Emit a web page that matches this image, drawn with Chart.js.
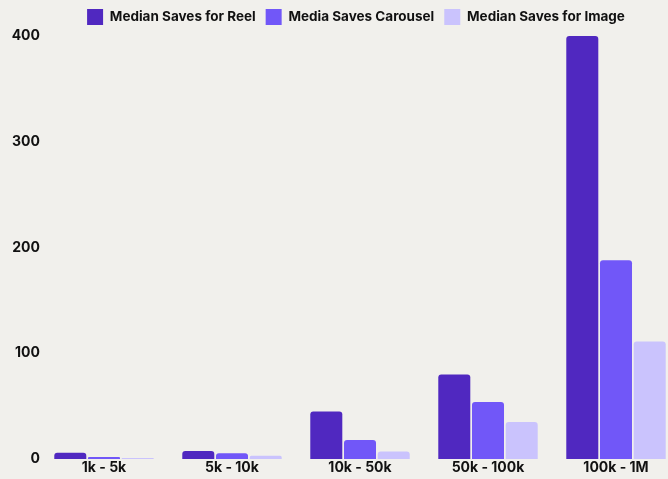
<!DOCTYPE html>
<html>
<head>
<meta charset="utf-8">
<script src="https://cdn.jsdelivr.net/npm/chart.js@4"></script>
<style>
  html, body { margin: 0; padding: 0; background: #f1f0ec; overflow: hidden; }
  #wrap { position: relative; width: 680px; height: 479px; }
</style>
</head>
<body>
<div id="wrap"><canvas id="chart"></canvas></div>
<script>
// categories and values
const categories = ["1k - 5k", "5k - 10k", "10k - 50k", "50k - 100k", "100k - 1M"]
const reelSaves = [6, 7.5, 45, 80, 400]
const carouselSaves = [2, 5.5, 18, 54, 188]
const imageSaves = [1, 3, 7, 35, 111]
const yTicks = [0, 100, 200, 300, 400]

const seriesNames = ["Median Saves for Reel", "Media Saves Carousel", "Median Saves for Image"]
const seriesColors = ["#5028c0", "#7157f8", "#cac3fd"]

Chart.defaults.font.family = "Inter, 'Noto Sans', sans-serif"
Chart.defaults.font.weight = "bold"
Chart.defaults.color = "#111"

const ctx = document.getElementById("chart")

const makeSet = (i, values) => ({
    label: seriesNames[i],
    data: values,
    backgroundColor: seriesColors[i],
    borderRadius: { topLeft: 3, topRight: 3 },
    borderSkipped: "bottom",
    barPercentage: 0.95,
    categoryPercentage: 0.79,
})

// nudge the legend so it sits where the original one does
const legendShift = {
    id: "legendShift",
    afterLayout(chart) {
        const lg = chart.legend
        lg.left += 16
        lg.right += 16
        lg.top -= 1
        lg.bottom -= 1
    },
}

new Chart(ctx, {
    type: "bar",
    plugins: [legendShift],
    data: {
        labels: categories,
        datasets: [
            makeSet(0, reelSaves),
            makeSet(1, carouselSaves),
            makeSet(2, imageSaves),
        ],
    },
    options: {
        responsive: true,
        maintainAspectRatio: false,
        animation: false,
        layout: { padding: 0 },
        plugins: {
            tooltip: { enabled: false },
            legend: {
                position: "top",
                labels: {
                    boxWidth: 16,
                    boxHeight: 16,
                    padding: 10,
                    font: { size: 13.5, weight: "bold" },
                    color: "#111",
                },
            },
        },
        scales: {
            x: {
                grid: { display: false, drawTicks: false },
                border: { display: false },
                afterFit: (axis) => { axis.height = 20 },
                ticks: { font: { size: 14, weight: "bold" }, padding: 0 },
            },
            y: {
                min: 0,
                max: 400,
                grid: { display: false, drawTicks: false },
                border: { display: false },
                afterFit: (axis) => { axis.width = 40 },
                afterBuildTicks: (axis) => { axis.ticks = yTicks.map(v => ({ value: v })) },
                ticks: { font: { size: 14, weight: "bold" }, padding: 0 },
            },
        },
    },
})
</script>
</body>
</html>
